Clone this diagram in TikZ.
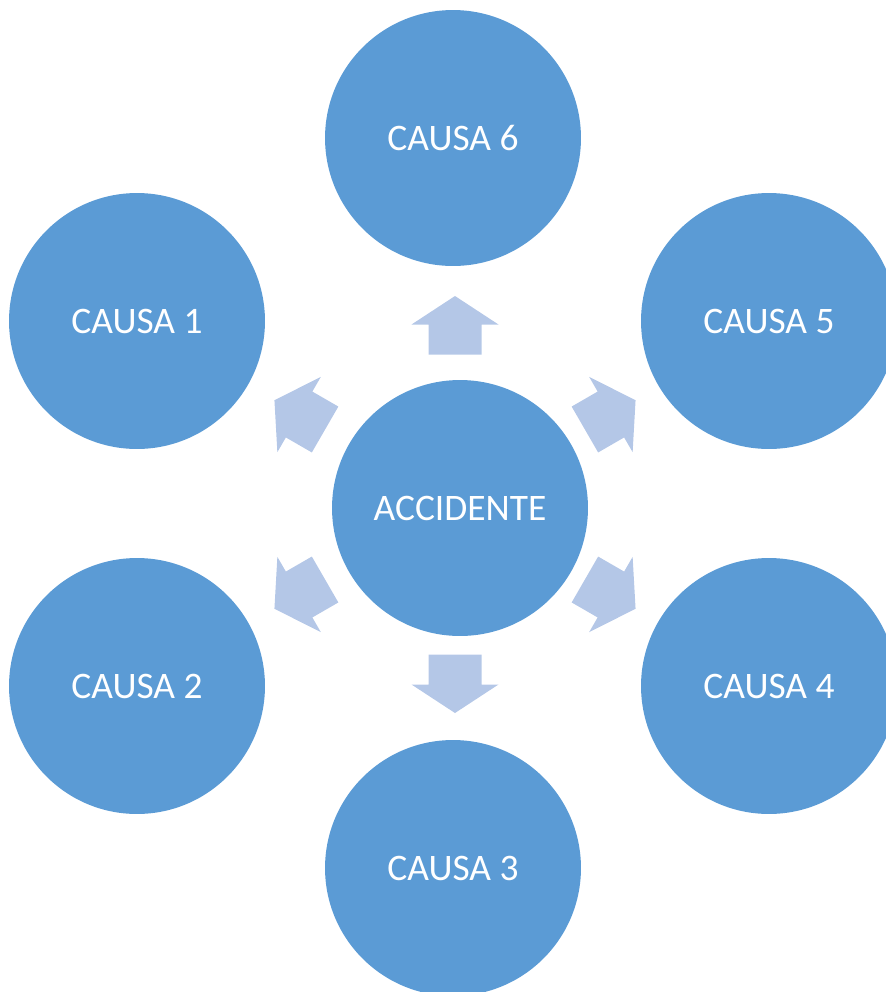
\documentclass[tikz,border=0pt]{standalone}
\usepackage{fontspec}
\setmainfont{Carlito}
\definecolor{circblue}{HTML}{5B9BD5}
\definecolor{arrblue}{HTML}{B4C7E7}
\begin{document}
\begin{tikzpicture}[x=0.02cm,y=-0.02cm,
  cause/.style={circle, fill=circblue, minimum size=5.12cm, inner sep=0pt, text=white,
    font=\fontsize{21.3}{25}\selectfont},
  blockarrow/.style={fill=arrblue}]
\useasboundingbox (0,0) rectangle (886,992);
\clip (0,0) rectangle (886,992);
\node[cause] (acc) at (460,508) {ACCIDENTE};
\node[cause] (c6) at (453,138) {CAUSA 6};
\node[cause] (c1) at (137,321) {CAUSA 1};
\node[cause] (c5) at (769,321) {CAUSA 5};
\node[cause] (c2) at (137,686) {CAUSA 2};
\node[cause] (c4) at (769,686) {CAUSA 4};
\node[cause] (c3) at (453,868) {CAUSA 3};
\foreach \a in {30,90,150,210,270,330} {
  \fill[blockarrow, shift={(455,504.5)}, rotate=\a]
    (150,-26.5) -- (180,-26.5) -- (180,-43.5) -- (208.5,0) -- (180,43.5)
    -- (180,26.5) -- (150,26.5) -- cycle;
}
\end{tikzpicture}
\end{document}
